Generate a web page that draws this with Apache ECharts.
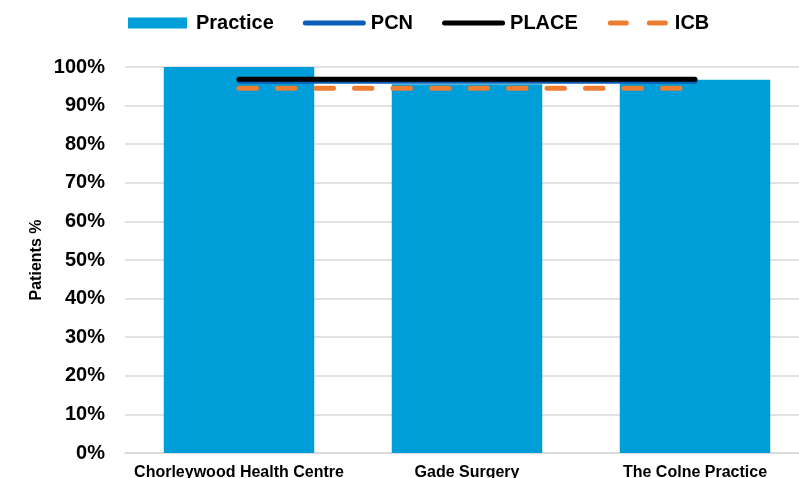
<!DOCTYPE html>
<html><head><meta charset="utf-8">
<script src="https://cdn.jsdelivr.net/npm/echarts@6/dist/echarts.min.js"></script>
<style>html,body{margin:0;padding:0;background:#fff}#c{width:799px;height:478px}</style>
</head><body><div id="c"></div>
<script>
var categories = ['Chorleywood Health Centre', 'Gade Surgery', 'The Colne Practice'];
var practice = [100, 95.5, 96.7];
var pcn = [96.3, 96.3, 96.3];
var place = [96.8, 96.8, 96.8];
var icb = [94.5, 94.5, 94.5];
var yTicks = [0, 10, 20, 30, 40, 50, 60, 70, 80, 90, 100];

var F = 'Liberation Sans, Arial, sans-serif';
// legend icon paths (box 63x12, zero-area markers keep full box)
var box = 'M0 0 L0.01 0 L0 0 Z M63 12 L62.99 12 L63 12 Z ';
var rectIcon = box + 'M0 0.5 L59 0.5 L59 11.5 L0 11.5 Z';
var lineIcon = box + 'M2.5 3.5 L60.5 3.5 A2.5 2.5 0 0 1 60.5 8.5 L2.5 8.5 A2.5 2.5 0 0 1 2.5 3.5 Z';
var dashIcon = box + 'M3.5 3.5 L19.5 3.5 A2.5 2.5 0 0 1 19.5 8.5 L3.5 8.5 A2.5 2.5 0 0 1 3.5 3.5 Z ' +
  'M42.5 3.5 L58.5 3.5 A2.5 2.5 0 0 1 58.5 8.5 L42.5 8.5 A2.5 2.5 0 0 1 42.5 3.5 Z';

var chart = echarts.init(document.getElementById('c'));
chart.setOption({
  animation: false,
  textStyle: {fontFamily: F},
  legend: {
    top: 8, left: 123, itemGap: 29, itemWidth: 63, itemHeight: 12,
    textStyle: {fontFamily: F, fontSize: 20, fontWeight: 'bold', color: '#000'},
    data: [
      {name: 'Practice', icon: 'path://' + rectIcon},
      {name: 'PCN', icon: 'path://' + lineIcon},
      {name: 'PLACE', icon: 'path://' + lineIcon},
      {name: 'ICB', icon: 'path://' + dashIcon}
    ]
  },
  grid: {left: 125, width: 684, top: 67, bottom: 25, containLabel: false, outerBoundsMode: 'none'},
  xAxis: {
    type: 'category', data: categories,
    axisLine: {lineStyle: {color: '#d9d9d9', width: 1.5}},
    axisTick: {show: false},
    axisLabel: {color: '#000', fontFamily: F, fontSize: 16, fontWeight: 'bold', margin: 12, interval: 0}
  },
  yAxis: {
    type: 'value', min: 0, max: 100, interval: 10,
    name: 'Patients %', nameLocation: 'middle', nameGap: 80, nameRotate: 90,
    nameMoveOverlap: false,
    nameTextStyle: {color: '#000', fontFamily: F, fontSize: 16, fontWeight: 'bold'},
    axisLabel: {color: '#000', fontFamily: F, fontSize: 20, fontWeight: 'bold', margin: 20, formatter: '{value}%'},
    axisLine: {show: false}, axisTick: {show: false},
    splitLine: {lineStyle: {color: '#d9d9d9', width: 1.5}}
  },
  series: [
    {name: 'Practice', type: 'bar', data: practice, barCategoryGap: '34%',
     itemStyle: {color: '#009ED8'}},
    {name: 'PCN', type: 'line', data: pcn, symbol: 'none', z: 3,
     itemStyle: {color: '#0A5EB8'},
     lineStyle: {color: '#0A5EB8', width: 5, cap: 'round'}},
    {name: 'PLACE', type: 'line', data: place, symbol: 'none', z: 4,
     itemStyle: {color: '#000'},
     lineStyle: {color: '#000', width: 5, cap: 'round'}},
    {name: 'ICB', type: 'line', data: icb, symbol: 'none', z: 3,
     itemStyle: {color: '#ED7D31'},
     lineStyle: {color: '#ED7D31', width: 5, type: [17.5, 21], cap: 'round'}}
  ]
});
</script></body></html>
